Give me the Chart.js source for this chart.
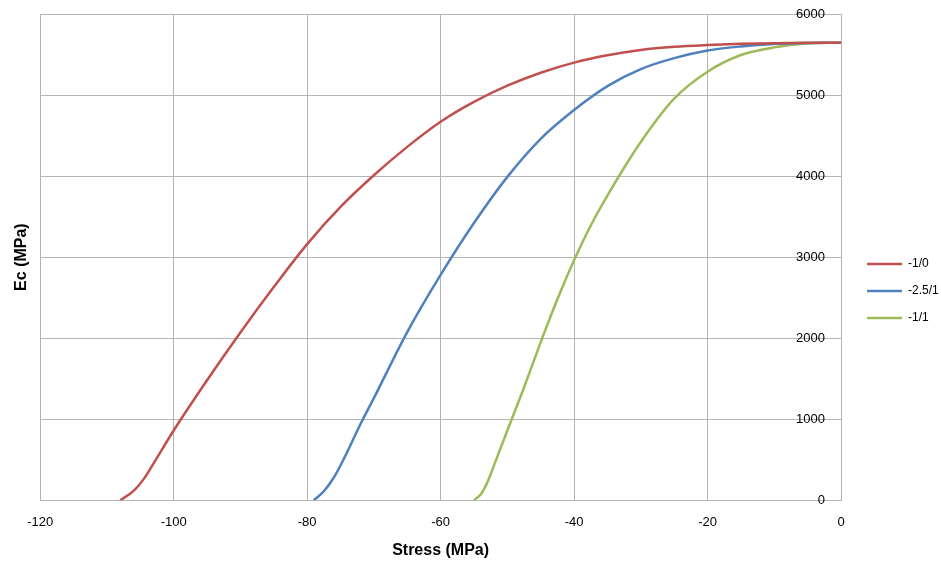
<!DOCTYPE html>
<html>
<head>
<meta charset="utf-8">
<script src="https://cdn.jsdelivr.net/npm/chart.js@4.4.1/dist/chart.umd.min.js"></script>
<style>
  html, body { margin: 0; padding: 0; background: #fff; }
</style>
</head>
<body>
<canvas id="chart" width="941" height="564"></canvas>
<script>
// series names as in the legend
const seriesNames = ['-1/0', '-2.5/1', '-1/1'];
const seriesColors = ['#C0504D', '#4F81BD', '#9BBB59'];

// stress (MPa) / Ec (MPa) pairs
const stressA = [-108, -106, -104.5, -103, -100, -95, -90, -85, -80, -75, -70, -65, -60, -55, -50, -45, -40, -35, -30, -25, -20, -15, -10, -5, 0];
const ecA     = [0, 115, 260, 455, 860, 1480, 2070, 2630, 3160, 3620, 4010, 4360, 4670, 4915, 5115, 5275, 5400, 5490, 5556, 5595, 5617, 5632, 5640, 5644, 5646];

const stressB = [-79, -77.5, -76, -74.5, -72, -70, -65, -60, -55, -50, -45, -40, -35, -30, -25, -20, -15, -10, -5, 0];
const ecB     = [0, 110, 280, 510, 940, 1260, 2075, 2780, 3420, 3990, 4460, 4815, 5110, 5320, 5455, 5550, 5600, 5630, 5642, 5646];

const stressC = [-55, -54, -53, -51.7, -50, -47.5, -45, -42.5, -40, -37.5, -35, -30, -25, -20, -15, -10, -5, 0];
const ecC     = [0, 70, 220, 494, 860, 1390, 1950, 2480, 2960, 3390, 3760, 4420, 4955, 5288, 5494, 5588, 5635, 5646];

const xTicks = { min: -120, max: 0, step: 20 };
const yTicks = { min: 0, max: 6000, step: 1000 };

const toPoints = (xs, ys) => xs.map((x, i) => ({ x: x, y: ys[i] }));
const allSeries = [toPoints(stressA, ecA), toPoints(stressB, ecB), toPoints(stressC, ecC)];

const gridColor = '#b4b4b4';
const font = 'Liberation Sans, Arial, sans-serif';

new Chart(document.getElementById('chart'), {
  type: 'line',
  data: {
    datasets: allSeries.map((pts, i) => ({
      label: seriesNames[i],
      data: pts,
      borderColor: seriesColors[i],
      backgroundColor: seriesColors[i],
      borderWidth: 2.5,
      pointRadius: 0,
      cubicInterpolationMode: 'monotone',
      yAxisID: 'y'
    }))
  },
  options: {
    responsive: false,
    animation: false,
    layout: { padding: { top: 14, right: 0, left: 8, bottom: 4 } },
    plugins: {
      legend: {
        position: 'right',
        maxWidth: 89,
        title: { display: true, text: '', padding: { top: -4, bottom: 0 }, font: { size: 10 } },
        labels: {
          usePointStyle: true,
          pointStyle: 'line',
          pointStyleWidth: 35,
          color: '#000',
          padding: 15,
          font: { family: font, size: 12 }
        }
      },
      tooltip: { enabled: false }
    },
    scales: {
      x: {
        type: 'linear',
        min: xTicks.min,
        max: xTicks.max,
        ticks: { stepSize: xTicks.step, color: '#000', padding: 14, font: { family: font, size: 13 } },
        grid: { color: gridColor, drawTicks: false },
        border: { color: gridColor },
        title: { display: true, text: 'Stress (MPa)', color: '#000', padding: { top: -3, bottom: 0 }, font: { family: font, size: 16, weight: 'bold' } }
      },
      y: {
        position: 'right',
        min: yTicks.min,
        max: yTicks.max,
        afterFit: (scale) => { scale.width = 11; },
        ticks: {
          stepSize: yTicks.step, mirror: true, padding: -16, color: '#000',
          font: { family: font, size: 13 },
          callback: (v) => String(v)
        },
        grid: { color: gridColor, drawTicks: false },
        border: { color: gridColor }
      },
      yTitle: {
        position: 'left',
        min: yTicks.min,
        max: yTicks.max,
        ticks: { display: false },
        grid: { display: false, drawTicks: false },
        border: { display: false },
        title: { display: true, text: 'Ec (MPa)', color: '#000', padding: { top: 4, bottom: 9 }, font: { family: font, size: 16, weight: 'bold' } }
      }
    }
  }
});
</script>
</body>
</html>
